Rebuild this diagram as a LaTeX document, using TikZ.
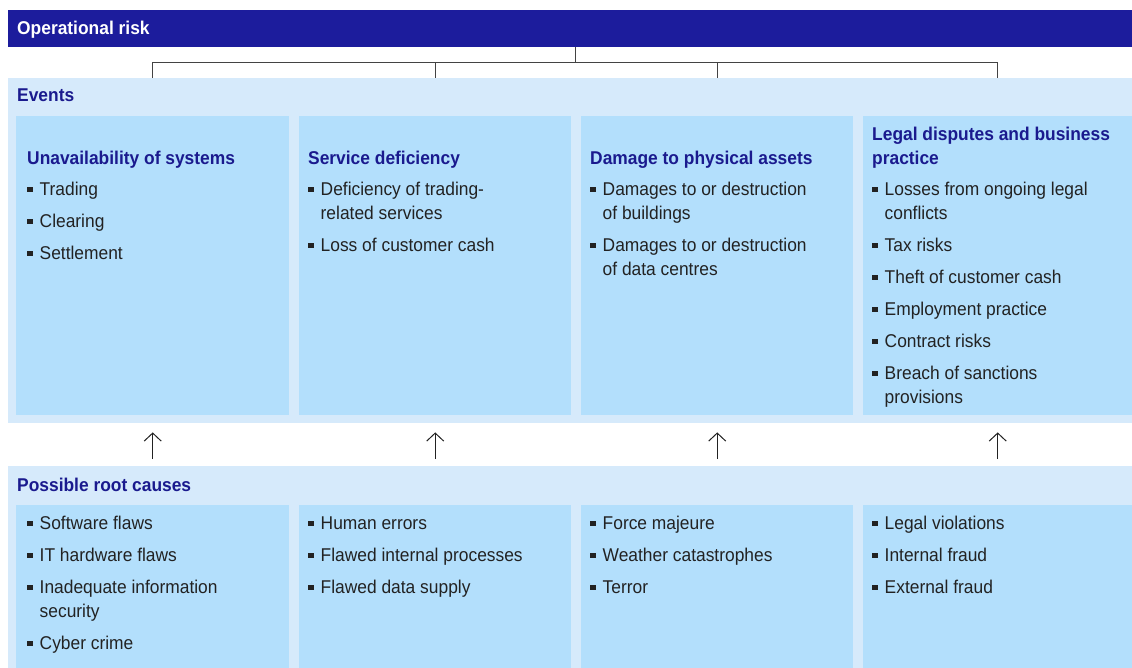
\documentclass[tikz,border=0pt]{standalone}
\usepackage{fontspec}
\setmainfont{Liberation Sans}[FakeStretch=0.94]
\usetikzlibrary{positioning,arrows.meta,calc}

\definecolor{riskblue}{HTML}{1C1C9C}
\definecolor{panelblue}{HTML}{D6EAFB}
\definecolor{boxblue}{HTML}{B3DFFC}
\definecolor{headblue}{HTML}{1A1A8E}
\definecolor{inkgray}{HTML}{222222}

\newcommand{\hd}[1]{{\bfseries\color{headblue}#1}}
\newcommand{\bul}{\makebox[12.5pt][l]{\raisebox{3pt}{\rule{5.5pt}{5.5pt}}}}
\newcommand{\hang}{\hspace*{12.5pt}}
\newcommand{\firstline}{\rule{0pt}{16pt}}

\tikzset{
  panel/.style={fill=panelblue, anchor=north west, inner sep=0pt, minimum width=1124pt},
  riskbar/.style={fill=riskblue, anchor=north west, inner sep=0pt, minimum width=1124pt, minimum height=37pt},
  catbox/.style={fill=boxblue, anchor=north west, inner sep=0pt},
  txt/.style={inner sep=0pt, align=left, text=inkgray, font=\fontsize{18.5}{24}\selectfont},
  paneltitle/.style={anchor=base west, inner sep=0pt, text=headblue, font=\fontsize{18.5}{24}\selectfont\bfseries},
  link/.style={draw=inkgray!85, line width=1pt},
  uparrow/.style={draw=inkgray, line width=1pt, -{Straight Barb[length=8pt,width=17pt]}}
}

\begin{document}
\begin{tikzpicture}[x=1pt, y=-1pt]

  \useasboundingbox (0, 0) rectangle (1132, 668);

  % bars and panels
  \node[riskbar] (risk) at (8, 10) {};
  \node[anchor=base west, inner sep=0pt, text=white, font=\fontsize{18.5}{24}\selectfont\bfseries] (risktitle) at (17, 35) {Operational risk};
  \node[panel, minimum height=345pt] (events) at (8, 78) {};
  \node[panel, minimum height=202pt] (causes) at (8, 466) {};
  \node[paneltitle] (eventstitle) at (17, 102) {Events};
  \node[paneltitle] (causestitle) at (17, 491) {Possible root causes};

  \foreach \i/\x/\w in {0/16/273, 1/299/272, 2/581/272, 3/863/269} {
    \node[catbox, minimum width=\w pt, minimum height=299pt] (ev\i) at (\x, 116) {};
    \node[catbox, minimum width=\w pt, minimum height=163pt] (rc\i) at (\x, 505) {};
  }

  % events
  \node[txt, below right=32pt and 11pt of ev0.north west] (evtext0) {\firstline\hd{Unavailability of systems}\\[7pt]
    \bul Trading\\[8pt]
    \bul Clearing\\[8pt]
    \bul Settlement};
  \node[txt, below right=32pt and 9pt of ev1.north west] (evtext1) {\firstline\hd{Service deficiency}\\[7pt]
    \bul Deficiency of trading-\\
    \hang related services\\[8pt]
    \bul Loss of customer cash};
  \node[txt, below right=32pt and 9pt of ev2.north west] (evtext2) {\firstline\hd{Damage to physical assets}\\[7pt]
    \bul Damages to or destruction\\
    \hang of buildings\\[8pt]
    \bul Damages to or destruction\\
    \hang of data centres};
  \node[txt, below right=8pt and 9pt of ev3.north west] (evtext3) {\firstline\hd{Legal disputes and business}\\
    \hd{practice}\\[7pt]
    \bul Losses from ongoing legal\\
    \hang conflicts\\[8pt]
    \bul Tax risks\\[8pt]
    \bul Theft of customer cash\\[8pt]
    \bul Employment practice\\[8pt]
    \bul Contract risks\\[8pt]
    \bul Breach of sanctions\\
    \hang provisions};

  % root causes
  \node[txt, below right=8pt and 11pt of rc0.north west] (rctext0) {\firstline\bul Software flaws\\[8pt]
    \bul IT hardware flaws\\[8pt]
    \bul Inadequate information\\
    \hang security\\[8pt]
    \bul Cyber crime};
  \node[txt, below right=8pt and 9pt of rc1.north west] (rctext1) {\firstline\bul Human errors\\[8pt]
    \bul Flawed internal processes\\[8pt]
    \bul Flawed data supply};
  \node[txt, below right=8pt and 9pt of rc2.north west] (rctext2) {\firstline\bul Force majeure\\[8pt]
    \bul Weather catastrophes\\[8pt]
    \bul Terror};
  \node[txt, below right=8pt and 9pt of rc3.north west] (rctext3) {\firstline\bul Legal violations\\[8pt]
    \bul Internal fraud\\[8pt]
    \bul External fraud};

  % bracket from the top bar down to the events
  \coordinate (barleft) at ([yshift=15pt]ev0.north |- events.north);
  \coordinate (barright) at ([yshift=15pt]ev3.north |- events.north);
  \coordinate (hub) at ($(barleft)!0.5!(barright)$);
  \draw[link] (hub |- risk.south) -- (hub);
  \draw[link] (ev0.north |- events.north) -- (barleft) -- (barright) -- (ev3.north |- events.north);
  \foreach \i in {1, 2}
    \draw[link] (ev\i.north |- events.north) -- (ev\i.north |- barleft);

  % arrows from the causes up to the events
  \foreach \i in {0,...,3}
    \draw[uparrow, shorten <=7pt, shorten >=9pt] (rc\i.north |- causes.north) -- (ev\i.south |- events.south);

\end{tikzpicture}
\end{document}
